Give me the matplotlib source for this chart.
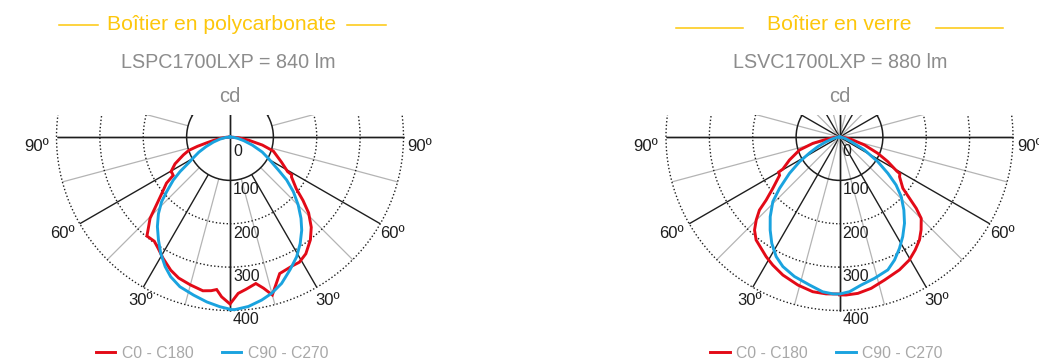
import numpy as np
import matplotlib
matplotlib.use("Agg")
import matplotlib.pyplot as plt
from matplotlib.patches import Circle
from matplotlib.lines import Line2D

plt.rcParams['font.family'] = ['Liberation Sans Narrow', 'Liberation Sans', 'DejaVu Sans']

W, H = 1039, 362
S = 173.5 / 400.0          # pixels per candela
CY = 137                    # pixel row of the diagram centres
CX = [230, 839.5]           # pixel column of the diagram centres

# ---------------- data (angle from nadir in degrees, intensity in cd) -------------
titles = ["Boîtier en polycarbonate", "Boîtier en verre"]
subtitles = ["LSPC1700LXP = 840 lm", "LSVC1700LXP = 880 lm"]
unit_label = "cd"
ring_values = [0, 100, 200, 300, 400]
series_names = ["C0 - C180", "C90 - C270"]

# Polycarbonate housing
poly_red_left_ang = [0, 3, 5, 7, 10, 15, 20, 24, 29, 33, 36, 40, 42, 44.5, 46.5, 50, 54, 56,
                     59, 59.5, 64, 69, 72, 74, 76, 78, 82, 86, 90]
poly_red_left_cd = [385, 369, 353, 357, 360, 353, 346, 336, 319, 305, 297, 298, 281, 263, 239, 207, 181, 158,
                    157, 158, 141, 115, 100, 78, 55, 40, 22, 9, 0]
poly_red_right_ang = [0, 3, 6, 10, 12.5, 15, 20, 26, 29, 33, 38, 42, 46, 49, 52, 57, 58.5, 59, 64, 72, 76, 80, 85, 90]
poly_red_right_cd = [385, 361, 353, 343, 357, 377, 335, 330, 330, 321, 301, 280, 252, 223, 194, 169, 167, 155,
                     132, 105, 77, 45, 20, 0]
poly_blue_left_ang = [0, 3.4, 8, 13, 18.5, 23, 26.6, 30.8, 34.8, 39, 43, 46.6, 49.2, 52.8, 55.3, 58.3, 60, 64,
                      68, 73, 78, 84, 90]
poly_blue_left_cd = [397, 392, 384, 374, 364, 350, 334, 312, 289, 266, 242, 217, 193, 164, 140, 110, 100, 80,
                     60, 40, 24, 10, 0]
poly_blue_right_ang = [0, 1.7, 6.2, 11, 14.9, 19.4, 24.3, 29.1, 33.4, 37.6, 41.1, 45.1, 49.2, 52.8, 55.7, 60.9,
                       65, 70, 75, 80, 85, 90]
poly_blue_right_cd = [398, 398, 393, 383, 373, 358, 336, 316, 294, 271, 249, 222, 193, 164, 135, 101,
                      82, 55, 33, 18, 8, 0]

# Glass housing
glass_red_left_ang = [0, 4.9, 9.8, 15.7, 22.3, 27.5, 31.5, 35.1, 39, 42.4, 45.1, 47.6, 49.3, 52.4, 57.4, 60,
                      60.5, 65.3, 72, 76.6, 80, 85, 90]
glass_red_left_cd = [362, 363, 362, 354.5, 344, 333, 323.6, 314, 305.5, 290.5, 271, 250, 223, 194, 164, 162,
                     150, 127, 97, 63, 31, 12, 0]
glass_red_right_ang = [0, 2.4, 6.7, 11.8, 17.5, 24.3, 29.6, 33.8, 37.8, 41.3, 45.1, 47.1, 48.8, 51, 56.5, 58.7,
                       59.2, 63, 66.9, 72.3, 78.7, 85, 90]
glass_red_right_cd = [364, 364.6, 363, 356.5, 345.7, 336, 326, 313.6, 300.7, 285, 266, 241.5, 214.6, 188, 166, 163,
                      154, 125, 96, 60.5, 27.4, 10, 0]
glass_blue_left_ang = [0, 2.4, 6.2, 11.5, 17.9, 23.6, 27.9, 32.5, 36.7, 41, 45.9, 49.4, 54, 58.3, 62, 66, 70,
                       75, 80, 85, 90]
glass_blue_left_cd = [362, 362, 359, 348, 338, 326, 312, 290.6, 267.5, 243.5, 214, 182, 142.5, 108, 78, 55, 35,
                      18, 8, 3, 0]
glass_blue_right_ang = [0, 3.7, 8.3, 13.9, 20, 24.1, 28.3, 32.4, 37, 41.4, 46, 49.7, 53.1, 57.2, 62.5, 68.2,
                        75, 80, 85, 90]
glass_blue_right_cd = [362, 357.4, 345, 335.7, 326, 310.7, 291.6, 272, 249, 224.4, 197.8, 171, 139.4, 105, 65, 29,
                       14, 7, 3, 0]

RED = "#E30A17"
BLUE = "#1AA3DF"
YELLOW = "#FDC70C"
GREY_TXT = "#8C8C8C"
LEGEND_TXT = "#A8A8A8"
SPOKE_GREY = "#B4B4B4"
DARK = "#1E1E1E"

fig = plt.figure(figsize=(W / 100, H / 100), dpi=100)


def ftext(x, y, s, **kw):
    fig.text(x / W, 1 - y / H, s, **kw)


def fline(x1, x2, y, **kw):
    fig.add_artist(Line2D([x1 / W, x2 / W], [1 - y / H, 1 - y / H], transform=fig.transFigure, **kw))


def polar_xy(ang, cd, side):
    g = np.radians(np.asarray(ang, float))
    r = np.asarray(cd, float)
    return side * r * np.sin(g), -r * np.cos(g)


def curve(left_ang, left_cd, right_ang, right_cd):
    xl, yl = polar_xy(left_ang, left_cd, -1)
    xr, yr = polar_xy(right_ang, right_cd, 1)
    return np.concatenate([xl[::-1], xr]), np.concatenate([yl[::-1], yr])


def make_axes(cx):
    left, right, top, bottom = cx - 250, cx + 250, 115, H
    ax = fig.add_axes([left / W, 1 - bottom / H, (right - left) / W, (bottom - top) / H])
    ax.set_xlim((left - cx) / S, (right - cx) / S)
    ax.set_ylim((CY - bottom) / S, (CY - top) / S)
    ax.set_aspect('auto')
    ax.axis('off')
    return ax


datasets = [
    (poly_red_left_ang, poly_red_left_cd, poly_red_right_ang, poly_red_right_cd,
     poly_blue_left_ang, poly_blue_left_cd, poly_blue_right_ang, poly_blue_right_cd),
    (glass_red_left_ang, glass_red_left_cd, glass_red_right_ang, glass_red_right_cd,
     glass_blue_left_ang, glass_blue_left_cd, glass_blue_right_ang, glass_blue_right_cd),
]
title_cx = [221.5, 839]
title_lines = [((59, 98), (347, 386), 25), ((676, 743), (936, 1003), 28)]
subtitle_cx = [228, 840]
legend_dx = [-18, -13]

rmax = ring_values[-1]
for i, cx in enumerate(CX):
    ax = make_axes(cx)
    inner = ring_values[1] if i == 0 else 0

    # spokes every 15 degrees
    for g in range(-165, 181, 15):
        rad = np.radians(g)
        major = (g % 30 == 0)
        start = 0 if (g % 90 == 0 or i == 1) else inner
        if g % 90 == 0:
            start = -rmax
        ax.plot([start * np.sin(rad), rmax * np.sin(rad)], [-start * np.cos(rad), -rmax * np.cos(rad)],
                color=DARK if major else SPOKE_GREY, lw=1.0 if major else 0.9, zorder=1,
                solid_capstyle='butt')

    # rings
    for v in ring_values[2:]:
        ax.add_patch(Circle((0, 0), v, fill=False, ec=DARK, lw=1.0, ls=(0, (1, 1.6)), zorder=1.5))
    ax.add_patch(Circle((0, 0), ring_values[1], fill=False, ec=DARK, lw=1.1, zorder=1.6))

    # ring labels
    for v in ring_values:
        off = 14 if v == 0 else 9.5
        ax.text(3.0 / S, -(v * S + off) / S, str(v), ha='left', va='center', fontsize=11.5,
                color=DARK, zorder=3)

    # angle labels (pixel offsets from centre)
    for lbl, (dx, dy) in [("90º", (-193.5, 9.5)), ("90º", (190, 9.5)), ("60º", (-168, 96.5)),
                          ("60º", (162.5, 96.5)), ("30º", (-89.5, 163.5)), ("30º", (97.5, 163.5))]:
        ax.text(dx / S, -dy / S, lbl, ha='center', va='center', fontsize=12, color=DARK)

    d = datasets[i]
    xr_, yr_ = curve(d[0], d[1], d[2], d[3])
    xb_, yb_ = curve(d[4], d[5], d[6], d[7])
    lr, = ax.plot(xr_, yr_, color=RED, lw=2.1, zorder=4, solid_joinstyle='miter')
    lb, = ax.plot(xb_, yb_, color=BLUE, lw=2.1, zorder=5, solid_joinstyle='miter')

    leg = ax.legend([lr, lb], series_names, loc='center', ncol=2, frameon=False,
                    bbox_to_anchor=(0.5 + legend_dx[i] / 500, (H - 353) / (H - 115)),
                    fontsize=11.3, handlelength=1.25, handletextpad=0.4, columnspacing=1.8,
                    labelcolor=LEGEND_TXT)

    # titles
    ftext(title_cx[i], 24, titles[i], ha='center', va='center', fontsize=15.2, color=YELLOW)
    (a1, a2), (b1, b2), ly = title_lines[i]
    fline(a1, a2, ly, color=YELLOW, lw=1.1)
    fline(b1, b2, ly, color=YELLOW, lw=1.1)
    ftext(subtitle_cx[i], 62, subtitles[i], ha='center', va='center', fontsize=14.2, color=GREY_TXT)
    ftext(cx, 97, unit_label, ha='center', va='center', fontsize=14.5, color=GREY_TXT)

fig.savefig("out.png", dpi=100, facecolor='white')
